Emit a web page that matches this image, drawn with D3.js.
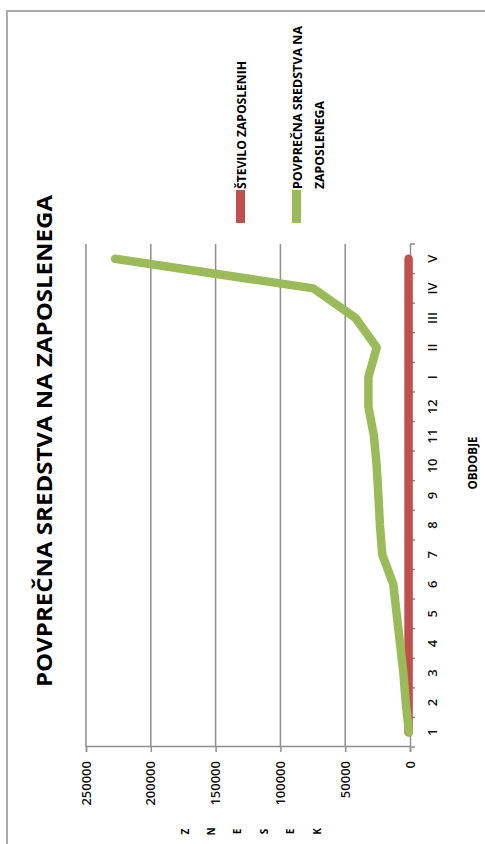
<!DOCTYPE html>
<html>
<head>
<meta charset="utf-8">
<script src="https://cdn.jsdelivr.net/npm/d3@7"></script>
<style>
  html, body { margin: 0; padding: 0; background: #fff; }
  svg { display: block; font-family: "Open Sans", "DejaVu Sans", sans-serif; }
</style>
</head>
<body>
<svg id="chart" width="485" height="844"></svg>
<script>
// Obdobja: meseci 1–12, nato četrtletja I–V
const categories = ["1","2","3","4","5","6","7","8","9","10","11","12","I","II","III","IV","V"];

// Število zaposlenih (v merilu grafa skoraj na ničli)
const steviloZaposlenih = [1100, 1100, 1100, 1100, 1100, 1100, 1100, 1100, 1100, 1100, 1100, 1100, 1100, 1100, 1100, 1100, 1100];

// Povprečna sredstva na zaposlenega
const sredstvaNaZaposlenega = [800, 3300, 5100, 7700, 10300, 12900, 21400, 23200, 24400, 25700, 27800, 32100, 32100, 25700, 42000, 74600, 227600];

// Oznake na vrednostni osi
const valueTicks = [0, 50000, 100000, 150000, 200000, 250000];

const seriesNames = ["ŠTEVILO ZAPOSLENIH", ["POVPREČNA SREDSTVA NA", "ZAPOSLENEGA"]];
const chartTitle = "POVPREČNA SREDSTVA NA ZAPOSLENEGA";
const categoryAxisTitle = "OBDOBJE";
const valueAxisTitle = "ZNESEK";

const RED = "#C0504D", GREEN = "#9BBB59", GRID = "#8e8e8e";

const svg = d3.select("#chart");

// Okvir grafa
svg.append("rect")
  .attr("x", 7).attr("y", 11)
  .attr("width", 620).attr("height", 900)
  .attr("fill", "none").attr("stroke", "#ababab").attr("stroke-width", 2);

// Celoten graf je obrnjen za 90° v levo
const g = svg.append("g").attr("transform", "translate(0,844) rotate(-90)");

const x = d3.scaleBand().domain(categories).range([97, 600]).paddingInner(0).paddingOuter(0);
const y = d3.scaleLinear().domain([0, 250000]).range([410, 86]);
const cx = c => x(c) + x.bandwidth() / 2;

// Mrežne črte
g.append("g").selectAll("line")
  .data(valueTicks.filter(v => v > 0))
  .join("line")
  .attr("x1", 97).attr("x2", 600)
  .attr("y1", d => y(d)).attr("y2", d => y(d))
  .attr("stroke", GRID).attr("stroke-width", 1.5);

// Vrednostna os
const yAxis = g.append("g")
  .attr("transform", "translate(97,0)")
  .call(d3.axisLeft(y).tickValues(valueTicks).tickSize(5).tickPadding(9).tickFormat(d3.format("d")));
yAxis.select(".domain").attr("stroke", GRID).attr("stroke-width", 1.5);
yAxis.selectAll(".tick line").attr("stroke", GRID).attr("stroke-width", 1.5);
yAxis.selectAll("text").attr("font-size", 13).attr("font-weight", 600).attr("fill", "#111")
  .attr("font-family", "'Open Sans', sans-serif");

// Kategorijska os
const xAxis = g.append("g")
  .attr("transform", "translate(0,410)")
  .call(d3.axisBottom(x).tickSize(0).tickPadding(0));
xAxis.select(".domain").attr("stroke", GRID).attr("stroke-width", 1.5);
xAxis.selectAll("text").attr("y", 27).attr("dy", null)
  .attr("font-size", 13).attr("font-weight", 600).attr("fill", "#111")
  .attr("font-family", "'Open Sans', sans-serif");

// Razdelki med kategorijami
const boundaries = categories.map(c => x(c)).concat([x.range()[1]]);
xAxis.append("g").selectAll("line")
  .data(boundaries)
  .join("line")
  .attr("x1", d => d).attr("x2", d => d)
  .attr("y1", 0).attr("y2", 5)
  .attr("stroke", GRID).attr("stroke-width", 1.5);

// Črte serij
const line = d3.line().x(d => cx(d.c)).y(d => y(d.v));

g.append("path")
  .datum(categories.map((c, i) => ({ c, v: steviloZaposlenih[i] })))
  .attr("d", line)
  .attr("fill", "none").attr("stroke", RED)
  .attr("stroke-width", 8.5).attr("stroke-linejoin", "round").attr("stroke-linecap", "round");

g.append("path")
  .datum(categories.map((c, i) => ({ c, v: sredstvaNaZaposlenega[i] })))
  .attr("d", line)
  .attr("fill", "none").attr("stroke", GREEN)
  .attr("stroke-width", 8.5).attr("stroke-linejoin", "round").attr("stroke-linecap", "round");

// Naslov
g.append("text")
  .attr("x", 403).attr("y", 52)
  .attr("text-anchor", "middle")
  .attr("font-size", 21).attr("font-weight", "bold").attr("fill", "#000")
  .attr("textLength", 492).attr("lengthAdjust", "spacingAndGlyphs")
  .text(chartTitle);

// Legenda
const legend = g.append("g");
legend.append("rect").attr("x", 621).attr("y", 236).attr("width", 33).attr("height", 9).attr("fill", RED);
legend.append("rect").attr("x", 621).attr("y", 292).attr("width", 33).attr("height", 9).attr("fill", GREEN);
legend.append("text")
  .attr("x", 655).attr("y", 246)
  .attr("font-size", 12).attr("font-weight", "bold").attr("fill", "#000")
  .attr("textLength", 128).attr("lengthAdjust", "spacingAndGlyphs")
  .text(seriesNames[0]);
legend.append("text")
  .attr("x", 655).attr("y", 301.5)
  .attr("font-size", 12).attr("font-weight", "bold").attr("fill", "#000")
  .attr("textLength", 163).attr("lengthAdjust", "spacingAndGlyphs")
  .text(seriesNames[1][0]);
legend.append("text")
  .attr("x", 655).attr("y", 323.5)
  .attr("font-size", 12).attr("font-weight", "bold").attr("fill", "#000")
  .attr("textLength", 88).attr("lengthAdjust", "spacingAndGlyphs")
  .text(seriesNames[1][1]);

// Naslov kategorijske osi
g.append("text")
  .attr("x", 381).attr("y", 477)
  .attr("text-anchor", "middle")
  .attr("font-size", 12).attr("font-weight", "bold").attr("fill", "#000")
  .attr("textLength", 53).attr("lengthAdjust", "spacingAndGlyphs")
  .text(categoryAxisTitle);

// Naslov vrednostne osi – črke ena pod drugo
g.append("g").selectAll("text")
  .data(valueAxisTitle.split(""))
  .join("text")
  .attr("x", 12.5)
  .attr("y", (d, i) => 188.5 + i * 26.4)
  .attr("text-anchor", "middle")
  .attr("font-size", 10).attr("font-weight", "bold").attr("fill", "#000")
  .text(d => d);
</script>
</body>
</html>
